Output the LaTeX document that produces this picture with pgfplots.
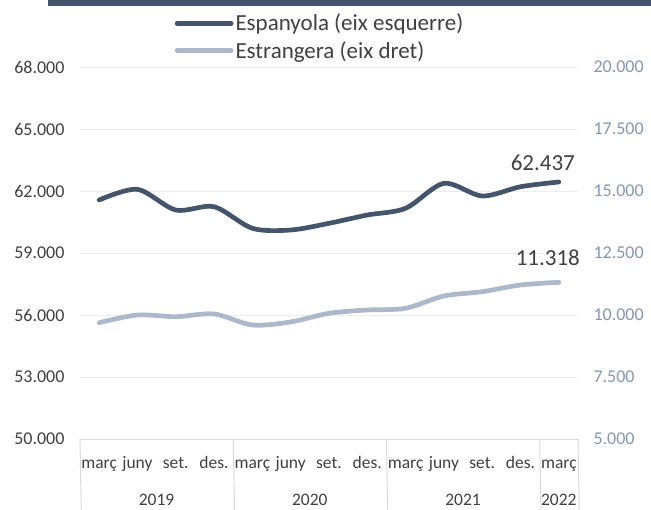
\documentclass[border=0pt]{standalone}
\usepackage{fontspec}
\setmainfont{Carlito}
\usepackage{pgfplots}
\pgfplotsset{compat=1.18}
\definecolor{darkc}{HTML}{44546A}
\definecolor{lightc}{HTML}{ADB9CA}
\definecolor{rightc}{HTML}{8497B0}
\definecolor{txt}{HTML}{404040}
\definecolor{gridc}{HTML}{EDEDED}
\definecolor{sepc}{HTML}{D9D9D9}
\pgfplotstableread{
x esp
0 61564
1 62082
2 61080
3 61240
4 60195
5 60113
6 60437
7 60838
8 61163
9 62372
10 61758
11 62208
12 62437
}\espdata
\pgfplotstableread{
x est
0 9690
1 10000
2 9932
3 10041
4 9597
5 9720
6 10069
7 10202
8 10271
9 10767
10 10940
11 11210
12 11318
}\estdata
\begin{document}
\begin{tikzpicture}
\useasboundingbox (0,0) rectangle (651pt,-510pt);
\fill[darkc] (48pt,0) rectangle (651pt,-6pt);
\pgfplotsset{
  common/.style={
    at={(80pt,-439pt)}, anchor=south west,
    scale only axis, width=498pt, height=372pt,
    xmin=-0.5, xmax=12.5,
    major tick length=0pt,
    clip=false,
    scaled y ticks=false,
    /pgf/number format/.cd, 1000 sep={.}, fixed, precision=0, assume math mode=true,
  }
}
\begin{axis}[common,
  ymin=50000, ymax=68000,
  ytick={50000,53000,...,68000},
  axis y line*=left, axis x line*=bottom,
  axis line style={-},
  y axis line style={draw=none},
  x axis line style={draw=sepc, line width=1pt},
  ymajorgrids, grid style={gridc, line width=1pt},
  yticklabel style={font=\fontsize{18}{18}\selectfont, text=txt, xshift=-12pt},
  xtick={0,...,12},
  xticklabels={març,juny,set.,des.,març,juny,set.,des.,març,juny,set.,des.,març},
  xticklabel style={font=\fontsize{17.5}{17.5}\selectfont, text=txt, anchor=base, yshift=-29pt},
  legend style={draw=none, fill=none, at={(0.19,1.148)}, anchor=north west,
    inner sep=0pt, row sep=5pt,
    font=\fontsize{23}{23}\selectfont, text=txt,
    nodes={inner sep=2pt}},
  legend cell align=left,
  legend image code/.code={\draw[#1, line cap=round] (0pt,0pt) -- (54pt,0pt);},
]
\addplot[darkc, line width=4.7pt, smooth, line cap=round] table[x=x, y=esp] {\espdata};
\addlegendentry{Espanyola (eix esquerre)}
\addlegendimage{lightc, line width=4.7pt}
\addlegendentry{Estrangera (eix dret)}
\node[font=\fontsize{23}{23}\selectfont, text=txt] at (axis cs:12,62437) [xshift=-16pt, yshift=19pt] {62.437};
\draw[sepc, line width=1pt] (axis cs:-0.5,50000) -- ++(0,-71pt);
\draw[sepc, line width=1pt] (axis cs:3.5,50000) -- ++(0,-71pt);
\draw[sepc, line width=1pt] (axis cs:7.5,50000) -- ++(0,-71pt);
\draw[sepc, line width=1pt] (axis cs:11.5,50000) -- ++(0,-71pt);
\draw[sepc, line width=1pt] (axis cs:12.5,50000) -- ++(0,-71pt);
\node[font=\fontsize{17.5}{17.5}\selectfont, text=txt, anchor=base, yshift=-66pt] at (axis cs:1.5,50000) {2019};
\node[font=\fontsize{17.5}{17.5}\selectfont, text=txt, anchor=base, yshift=-66pt] at (axis cs:5.5,50000) {2020};
\node[font=\fontsize{17.5}{17.5}\selectfont, text=txt, anchor=base, yshift=-66pt] at (axis cs:9.5,50000) {2021};
\node[font=\fontsize{17.5}{17.5}\selectfont, text=txt, anchor=base, yshift=-66pt] at (axis cs:12,50000) {2022};
\end{axis}
\begin{axis}[common,
  ymin=5000, ymax=20000,
  ytick={5000,7500,...,20000},
  axis y line*=right, axis x line=none,
  y axis line style={draw=none},
  yticklabel style={font=\fontsize{18}{18}\selectfont, text=rightc, xshift=12pt},
]
\addplot[lightc, line width=4.7pt, smooth, line cap=round] table[x=x, y=est] {\estdata};
\node[font=\fontsize{23}{23}\selectfont, text=txt] at (axis cs:12,11318) [xshift=-11pt, yshift=25pt] {11.318};
\end{axis}
\end{tikzpicture}
\end{document}
